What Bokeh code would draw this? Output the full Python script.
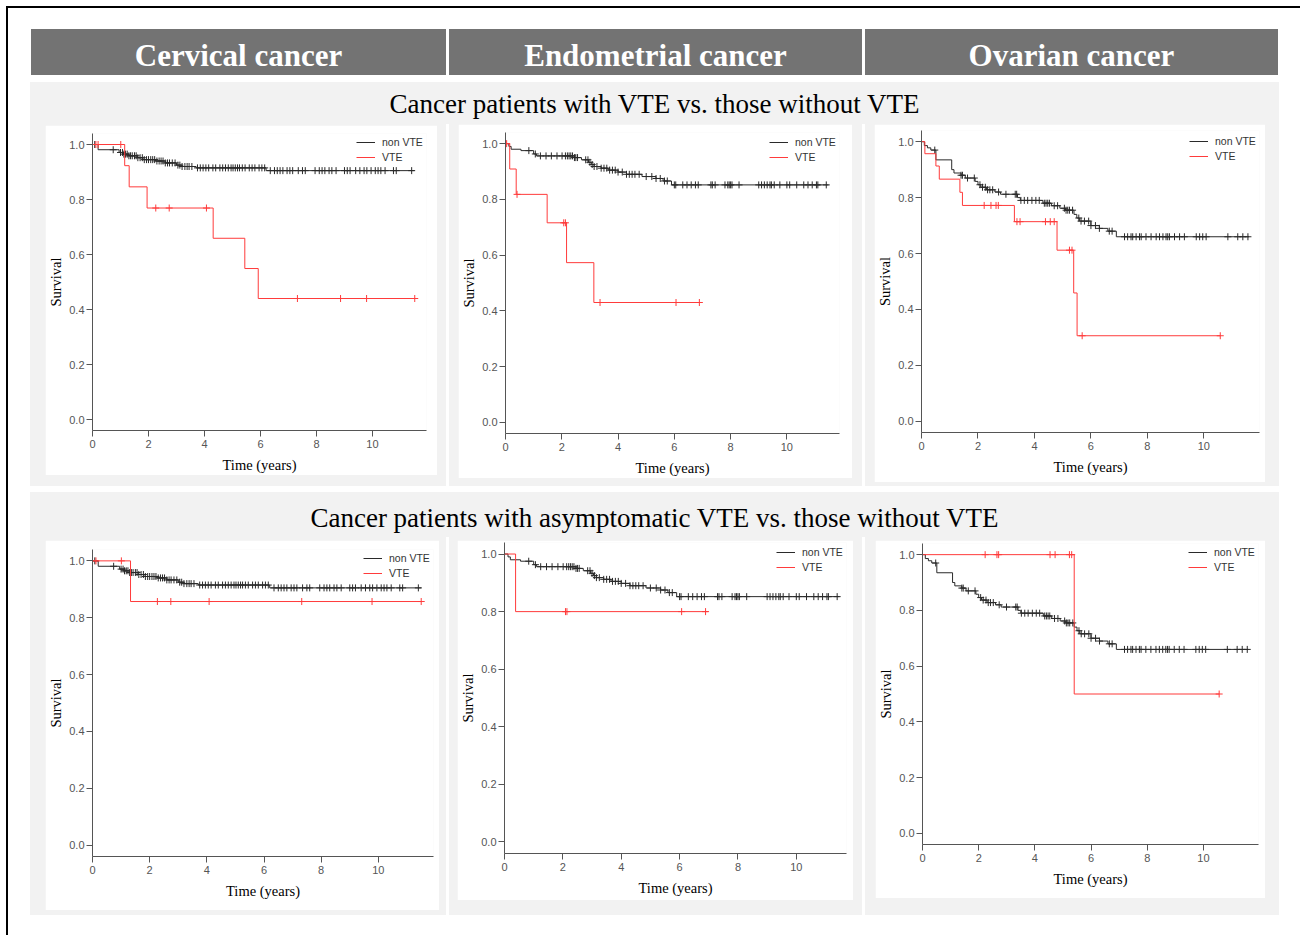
import numpy as np
from bokeh.plotting import figure
from bokeh.models import (Range1d, FixedTicker, PrintfTickFormatter, Legend, LegendItem,
                          Div, Spacer, Column, Row)
from bokeh.embed import file_html
from bokeh.resources import INLINE

# ---------------- data ----------------
column_titles = ["Cervical cancer", "Endometrial cancer", "Ovarian cancer"]
row_titles = ["Cancer patients with VTE vs. those without VTE",
              "Cancer patients with asymptomatic VTE vs. those without VTE"]
legend_labels = ["non VTE", "VTE"]
x_label = "Time (years)"
y_label = "Survival"
x_ticks = [0, 2, 4, 6, 8, 10]
y_ticks = [0.0, 0.2, 0.4, 0.6, 0.8, 1.0]

# non-VTE curves (shared by both rows)
cervical_nonvte_time = [0.2, 0.95, 1.1, 1.3, 1.6, 1.8, 2.25, 2.6, 3.0, 3.2, 3.7, 6.2]
cervical_nonvte_surv = [0.981, 0.971, 0.965, 0.959, 0.952, 0.945, 0.940, 0.933, 0.925, 0.920, 0.915, 0.905]
cervical_nonvte_end = 11.5
cervical_nonvte_censor = [0.08, 0.74, 1.0, 1.07, 1.12, 1.18, 1.24, 1.3, 1.36, 1.42, 1.5, 1.56, 1.62, 1.7,
                          1.78, 1.85, 1.93, 2.0, 2.08, 2.15, 2.22, 2.3, 2.38, 2.45, 2.52, 2.6, 2.68, 2.75,
                          2.85, 2.95, 3.05, 3.12, 3.2, 3.3, 3.38, 3.45, 3.55, 3.75, 3.85, 3.95, 4.05, 4.15,
                          4.3, 4.4, 4.55, 4.65, 4.75, 4.85, 4.95, 5.02, 5.1, 5.18, 5.25, 5.35, 5.45, 5.6,
                          5.7, 5.8, 5.95, 6.05, 6.15, 6.35, 6.5, 6.6, 6.7, 6.8, 6.95, 7.05, 7.15, 7.35,
                          7.5, 7.6, 7.95, 8.1, 8.2, 8.3, 8.45, 8.55, 8.7, 9.0, 9.1, 9.2, 9.4, 9.55, 9.7,
                          9.8, 9.95, 10.1, 10.2, 10.3, 10.45, 10.75, 10.85, 11.4]

endometrial_nonvte_time = [0.12, 0.2, 0.55, 1.0, 1.1, 2.45, 2.7, 2.95, 3.05, 3.15, 3.4, 3.65, 4.0, 4.3,
                           4.85, 5.35, 5.6, 5.9]
endometrial_nonvte_surv = [0.99, 0.98, 0.975, 0.963, 0.956, 0.95, 0.942, 0.933, 0.925, 0.918, 0.912,
                           0.905, 0.898, 0.89, 0.882, 0.875, 0.866, 0.852]
endometrial_nonvte_end = 11.48
endometrial_nonvte_censor = [0.83, 1.06, 1.24, 1.44, 1.63, 1.83, 2.01, 2.13, 2.2, 2.26, 2.32, 2.38, 2.45,
                             2.5, 2.56, 2.85, 2.93, 3.0, 3.08, 3.15, 3.25, 3.4, 3.5, 3.6, 3.7, 3.8, 3.9,
                             4.0, 4.15, 4.3, 4.4, 4.5, 4.6, 4.75, 5.0, 5.2, 5.35, 5.5, 5.65, 5.75, 6.0,
                             6.05, 6.3, 6.45, 6.6, 6.75, 6.85, 7.3, 7.35, 7.45, 7.8, 7.9, 7.95, 8.0, 8.05,
                             8.3, 9.0, 9.1, 9.2, 9.3, 9.4, 9.45, 9.55, 9.75, 10.0, 10.1, 10.35, 10.6,
                             10.75, 10.9, 11.05, 11.1, 11.4]

ovarian_nonvte_time = [0.1, 0.21, 0.33, 0.51, 1.07, 1.15, 1.4, 1.55, 1.9, 2.0, 2.1, 2.3, 2.6, 2.8, 3.4,
                       3.5, 4.3, 4.6, 4.9, 5.1, 5.4, 5.5, 5.6, 6.0, 6.3, 6.6, 6.9]
ovarian_nonvte_surv = [0.986, 0.978, 0.97, 0.935, 0.90, 0.888, 0.88, 0.87, 0.858, 0.846, 0.837, 0.828,
                       0.82, 0.812, 0.80, 0.79, 0.78, 0.771, 0.762, 0.755, 0.74, 0.727, 0.716, 0.70,
                       0.69, 0.68, 0.66]
ovarian_nonvte_end = 11.6
ovarian_nonvte_censor = [0.47, 1.4, 1.45, 1.63, 1.87, 2.07, 2.16, 2.26, 2.34, 2.42, 2.52, 2.73, 2.99, 3.32,
                         3.37, 3.52, 3.64, 3.76, 3.91, 4.05, 4.17, 4.35, 4.41, 4.47, 4.53, 4.7, 4.82,
                         5.06, 5.12, 5.18, 5.24, 5.35, 5.57, 5.65, 5.77, 5.92, 6.0, 6.16, 6.3, 6.65,
                         6.75, 7.19, 7.3, 7.42, 7.48, 7.6, 7.72, 7.78, 7.95, 8.13, 8.31, 8.43, 8.55,
                         8.66, 8.72, 8.78, 8.96, 9.14, 9.31, 9.73, 9.85, 9.96, 10.08, 10.85, 11.2,
                         11.38, 11.56]

# VTE curves, row 1 (all VTE)
cervical_vte_time = [1.15, 1.31, 1.95, 4.31, 5.44, 5.92]
cervical_vte_surv = [0.923, 0.846, 0.769, 0.659, 0.549, 0.44]
cervical_vte_end = 11.51
cervical_vte_censor = [0.12, 0.2, 1.01, 2.26, 2.74, 4.07, 7.32, 8.86, 9.79, 11.51]

endometrial_vte_time = [0.15, 0.38, 1.48, 2.17, 3.14]
endometrial_vte_surv = [0.909, 0.818, 0.716, 0.573, 0.43]
endometrial_vte_end = 6.98
endometrial_vte_censor = [0.04, 0.41, 2.07, 2.13, 3.36, 6.06, 6.89]

ovarian_vte_time = [0.12, 0.51, 0.63, 1.36, 1.45, 3.29, 4.80, 5.39, 5.51]
ovarian_vte_surv = [0.957, 0.913, 0.866, 0.819, 0.772, 0.714, 0.612, 0.459, 0.306]
ovarian_vte_end = 10.58
ovarian_vte_censor = [2.22, 2.46, 2.64, 2.72, 3.38, 3.49, 4.39, 4.56, 4.70, 5.24, 5.33, 5.69, 10.58]

# VTE curves, row 2 (asymptomatic VTE)
cervical_asym_time = [1.33]
cervical_asym_surv = [0.857]
cervical_asym_end = 11.5
cervical_asym_censor = [0.12, 1.01, 2.27, 2.74, 4.08, 7.32, 9.78, 11.5]

endometrial_asym_time = [0.38]
endometrial_asym_surv = [0.80]
endometrial_asym_end = 6.98
endometrial_asym_censor = [2.09, 2.14, 6.07, 6.89]

ovarian_asym_time = [5.40]
ovarian_asym_surv = [0.50]
ovarian_asym_end = 10.56
ovarian_asym_censor = [2.23, 2.65, 2.71, 4.54, 4.72, 5.23, 5.31, 10.56]

# ---------------- styling ----------------
BAND = "#f2f2f2"
HEADER = "#737373"
AXIS = "#555555"
BLACK_LINE = "#2a2a2a"
RED_LINE = "#ff3b3b"

datasets = {
    "cervical_non": (cervical_nonvte_time, cervical_nonvte_surv, cervical_nonvte_end, cervical_nonvte_censor),
    "endometrial_non": (endometrial_nonvte_time, endometrial_nonvte_surv, endometrial_nonvte_end, endometrial_nonvte_censor),
    "ovarian_non": (ovarian_nonvte_time, ovarian_nonvte_surv, ovarian_nonvte_end, ovarian_nonvte_censor),
    "cervical_vte": (cervical_vte_time, cervical_vte_surv, cervical_vte_end, cervical_vte_censor),
    "endometrial_vte": (endometrial_vte_time, endometrial_vte_surv, endometrial_vte_end, endometrial_vte_censor),
    "ovarian_vte": (ovarian_vte_time, ovarian_vte_surv, ovarian_vte_end, ovarian_vte_censor),
    "cervical_asym": (cervical_asym_time, cervical_asym_surv, cervical_asym_end, cervical_asym_censor),
    "endometrial_asym": (endometrial_asym_time, endometrial_asym_surv, endometrial_asym_end, endometrial_asym_censor),
    "ovarian_asym": (ovarian_asym_time, ovarian_asym_surv, ovarian_asym_end, ovarian_asym_censor),
}

# panel geometry (frame size, borders, x max, legend position inside frame)
geoms = [
    dict(fw=334, fh=297, l=43, r=11, t=8, b=45, xmax=11.93, lx=264, ly=267, non="cervical_non", vte="cervical_vte"),
    dict(fw=334, fh=301, l=44, r=13, t=8, b=43, xmax=11.87, lx=264, ly=270, non="endometrial_non", vte="endometrial_vte"),
    dict(fw=338, fh=302, l=45, r=6, t=6, b=50, xmax=11.97, lx=268, ly=270, non="ovarian_non", vte="ovarian_vte"),
    dict(fw=341, fh=307, l=41, r=6, t=9, b=54, xmax=11.93, lx=271, ly=277, non="cervical_non", vte="cervical_asym"),
    dict(fw=342, fh=311, l=44, r=7, t=2, b=47, xmax=11.72, lx=272, ly=280, non="endometrial_non", vte="endometrial_asym"),
    dict(fw=336, fh=301, l=47, r=7, t=3, b=54, xmax=11.96, lx=266, ly=271, non="ovarian_non", vte="ovarian_asym"),
]


def km_curve(p, key, color):
    times, survs, end, cens = datasets[key]
    xs = [0.0] + list(times) + [end]
    ys = [1.0] + list(survs) + [survs[-1]]
    r = p.step(xs, ys, mode="after", line_color=color, line_width=1)
    t = np.asarray(times)
    s = np.asarray(survs)
    c = np.asarray(cens)
    idx = np.searchsorted(t, c, side="right") - 1
    cy = np.where(idx < 0, 1.0, s[np.clip(idx, 0, None)])
    p.scatter(c, cy, marker="cross", size=7, line_color=color, line_width=1)
    return r


def make_panel(g):
    p = figure(frame_width=g["fw"], frame_height=g["fh"],
               x_range=Range1d(0, g["xmax"]), y_range=Range1d(-0.04, 1.04),
               output_backend="svg", toolbar_location=None,
               min_border_left=g["l"], min_border_right=g["r"],
               min_border_top=g["t"], min_border_bottom=g["b"],
               background_fill_color="white", border_fill_color="white",
               outline_line_color=None, margin=0)
    p.grid.visible = False
    for ax in (p.xaxis[0], p.yaxis[0]):
        ax.axis_line_color = AXIS
        ax.major_tick_line_color = AXIS
        ax.minor_tick_line_color = None
        ax.major_tick_out = 6
        ax.major_tick_in = 0
        ax.major_label_text_font = "Liberation Sans"
        ax.major_label_text_font_size = "11px"
        ax.major_label_text_color = "#555555"
        ax.axis_label_text_font = "Liberation Serif"
        ax.axis_label_text_font_size = "14.5px"
        ax.axis_label_text_font_style = "normal"
        ax.axis_label_text_color = "black"
    p.xaxis[0].ticker = FixedTicker(ticks=x_ticks)
    p.xaxis[0].major_label_standoff = 3
    p.xaxis[0].axis_label = x_label
    p.xaxis[0].axis_label_standoff = 6
    p.yaxis[0].ticker = FixedTicker(ticks=y_ticks)
    p.yaxis[0].formatter = PrintfTickFormatter(format="%.1f")
    p.yaxis[0].major_label_standoff = 2
    p.yaxis[0].axis_label = y_label
    p.yaxis[0].axis_label_standoff = 2

    r_non = km_curve(p, g["non"], BLACK_LINE)
    r_vte = km_curve(p, g["vte"], RED_LINE)

    leg = Legend(items=[LegendItem(label=legend_labels[0], renderers=[r_non]),
                        LegendItem(label=legend_labels[1], renderers=[r_vte])],
                 location=(g["lx"], g["ly"]), orientation="vertical",
                 background_fill_alpha=0, border_line_color=None,
                 padding=0, margin=0, spacing=3, glyph_width=19, glyph_height=12,
                 label_height=12, label_standoff=7,
                 label_text_font="Liberation Sans", label_text_font_size="10.5px",
                 label_text_color="#333333")
    p.add_layout(leg)
    return p


panels = [make_panel(g) for g in geoms]


def sp(w, h):
    return Spacer(width=w, height=h, margin=0)


def block(w, h, color):
    return Div(text="", width=w, height=h, margin=0, styles={"background-color": color})


def header(txt, w):
    return Div(text=txt, width=w, height=46, margin=0,
               styles={"background-color": HEADER, "color": "white",
                       "font-family": "Liberation Serif", "font-weight": "bold",
                       "font-size": "31px", "text-align": "center", "line-height": "54px",
                       "overflow": "visible"})


def title_div(txt, w, h, lh):
    return Div(text=txt, width=w, height=h, margin=0,
               styles={"background-color": BAND, "color": "black",
                       "font-family": "Liberation Serif", "font-size": "27px",
                       "text-align": "center", "line-height": f"{lh}px"})


def cell(fig_, w, h, left, top):
    kids = []
    if top > 0:
        kids.append(sp(w, top))
    kids.append(Row(children=[sp(left, 1), fig_], margin=0))
    return Column(children=kids, width=w, height=h, margin=0,
                  styles={"background-color": BAND})


main = Column(margin=0, children=[
    sp(1292, 21),
    Row(margin=0, children=[sp(23, 46), header(column_titles[0], 415), sp(3, 46),
                            header(column_titles[1], 413), sp(3, 46), header(column_titles[2], 413)]),
    sp(1292, 7),
    Row(margin=0, children=[sp(22, 42), title_div(row_titles[0], 1249, 42, 44)]),
    Row(margin=0, children=[sp(22, 362), cell(panels[0], 416, 362, 15, 1), sp(3, 362),
                            cell(panels[1], 413, 362, 9, 0), sp(3, 362),
                            cell(panels[2], 414, 362, 9, 0)]),
    sp(1292, 6),
    Row(margin=0, children=[sp(22, 45), title_div(row_titles[1], 1249, 45, 53)]),
    Row(margin=0, children=[sp(22, 378), cell(panels[3], 416, 378, 15, 3), sp(3, 378),
                            cell(panels[4], 413, 378, 8, 3), sp(3, 378),
                            cell(panels[5], 414, 378, 10, 3)]),
])

root = Column(margin=0, children=[
    sp(1300, 6),
    Row(margin=0, children=[sp(6, 2), block(1294, 2, "black")]),
    Row(margin=0, children=[sp(6, 927), block(2, 927, "black"), main]),
])

open("out.html", "w").write(file_html(root, INLINE))
